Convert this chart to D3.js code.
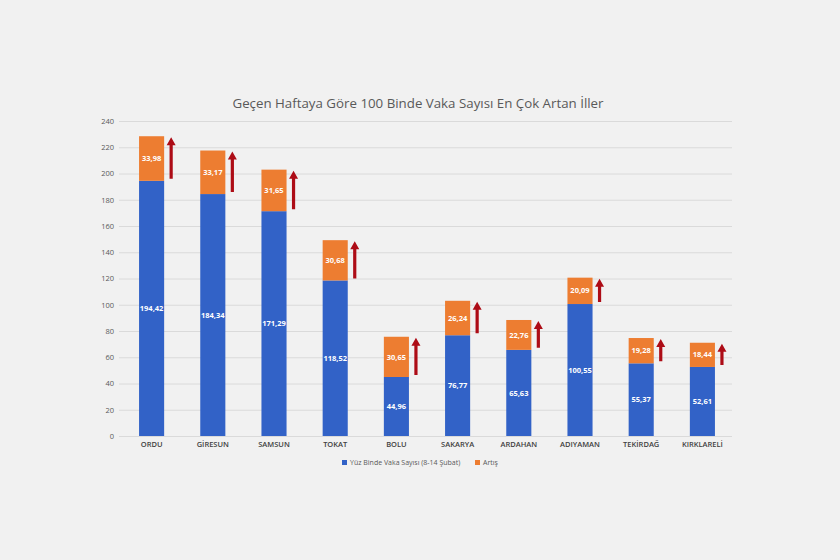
<!DOCTYPE html>
<html>
<head>
<meta charset="utf-8">
<script src="https://cdn.jsdelivr.net/npm/d3@7"></script>
<style>
  body { margin: 0; background: #f1f1f1; }
  svg { display: block; font-family: "Open Sans", "Liberation Sans", sans-serif; }
</style>
</head>
<body>
<div id="chart"></div>
<script>
/*global d3*/

// iller ve değerler
var iller = ["ORDU", "GİRESUN", "SAMSUN", "TOKAT", "BOLU", "SAKARYA", "ARDAHAN", "ADIYAMAN", "TEKİRDAĞ", "KIRKLARELİ"];
var vaka = [194.42, 184.34, 171.29, 118.52, 44.96, 76.77, 65.63, 100.55, 55.37, 52.61];
var artis = [33.98, 33.17, 31.65, 30.68, 30.65, 26.24, 22.76, 20.09, 19.28, 18.44];
var yTicks = [0, 20, 40, 60, 80, 100, 120, 140, 160, 180, 200, 220, 240];
var seriesNames = ["Yüz Binde Vaka Sayısı (8-14 Şubat)", "Artış"];

var width = 840,
    height = 560,
    blue = "#3262c7",
    orange = "#ed7d31",
    arrowColor = "#ad0c16";

var fmt = function(v) { return v.toFixed(2).replace(".", ","); };

var data = iller.map(function(d, i) {
  return { il: d, vaka: vaka[i], artis: artis[i], total: vaka[i] + artis[i] };
});

var svg = d3.select("#chart").append("svg")
  .attr("width", width)
  .attr("height", height);

svg.append("rect")
  .attr("width", width)
  .attr("height", height)
  .style("fill", "#f1f1f1");

var x = d3.scaleBand()
  .domain(iller)
  .range([121, 733])
  .paddingInner(0.59)
  .paddingOuter(0.295);

var y = d3.scaleLinear()
  .domain([0, 240])
  .range([436, 121]);

// title
svg.append("text")
  .attr("x", 418)
  .attr("y", 108)
  .attr("text-anchor", "middle")
  .style("font-size", "13.3px")
  .style("fill", "#595959")
  .text("Geçen Haftaya Göre 100 Binde Vaka Sayısı En Çok Artan İller");

// grid
svg.append("g")
  .selectAll("line")
  .data(yTicks)
  .enter()
  .append("line")
  .attr("x1", 119)
  .attr("x2", 732)
  .attr("y1", function(d) { return y(d) + 0.5; })
  .attr("y2", function(d) { return y(d) + 0.5; })
  .style("stroke", "#dadada")
  .style("stroke-width", 1);

// y axis labels
var yAxis = d3.axisLeft(y).tickValues(yTicks).tickSize(0).tickPadding(0);
var yg = svg.append("g")
  .attr("transform", "translate(114,0)")
  .call(yAxis);
yg.select(".domain").remove();
yg.selectAll("text")
  .style("font-size", "7.5px")
  .style("fill", "#595959")
  .style("font-family", "\"Open Sans\", sans-serif");

// x axis labels
var xAxis = d3.axisBottom(x).tickSize(0).tickPadding(0);
var xg = svg.append("g")
  .attr("transform", "translate(0,442)")
  .call(xAxis);
xg.select(".domain").remove();
xg.selectAll("text")
  .style("font-size", "7.5px")
  .style("font-weight", "600")
  .style("fill", "#404040")
  .style("font-family", "\"Open Sans\", sans-serif");

// bars
var bars = svg.append("g").selectAll("g")
  .data(data)
  .enter()
  .append("g");

bars.append("rect")
  .attr("x", function(d) { return x(d.il); })
  .attr("width", x.bandwidth())
  .attr("y", function(d) { return y(d.vaka); })
  .attr("height", function(d) { return y(0) - y(d.vaka); })
  .style("fill", blue);

bars.append("rect")
  .attr("x", function(d) { return x(d.il); })
  .attr("width", x.bandwidth())
  .attr("y", function(d) { return y(d.total); })
  .attr("height", function(d) { return y(d.vaka) - y(d.total); })
  .style("fill", orange);

// value labels
bars.append("text")
  .attr("x", function(d) { return x(d.il) + x.bandwidth() / 2; })
  .attr("y", function(d) { return y(d.vaka / 2); })
  .attr("dy", "0.35em")
  .attr("text-anchor", "middle")
  .style("font-size", "7.5px")
  .style("font-weight", "bold")
  .style("fill", "#ffffff")
  .text(function(d) { return fmt(d.vaka); });

bars.append("text")
  .attr("x", function(d) { return x(d.il) + x.bandwidth() / 2; })
  .attr("y", function(d) { return y(d.vaka + d.artis / 2); })
  .attr("dy", "0.35em")
  .attr("text-anchor", "middle")
  .style("font-size", "7.5px")
  .style("font-weight", "bold")
  .style("fill", "#ffffff")
  .text(function(d) { return fmt(d.artis); });

// arrows next to each bar
bars.append("path")
  .attr("d", function(d) {
    var ax = x(d.il) + x.bandwidth() + 7,
        top = y(d.total) + 1,
        bottom = y(d.vaka) - 2,
        headLen = 8,
        headW = 4.5,
        shaft = 1.6;
    return "M" + ax + "," + top +
      "L" + (ax + headW) + "," + (top + headLen) +
      "L" + (ax + shaft) + "," + (top + headLen) +
      "L" + (ax + shaft) + "," + bottom +
      "L" + (ax - shaft) + "," + bottom +
      "L" + (ax - shaft) + "," + (top + headLen) +
      "L" + (ax - headW) + "," + (top + headLen) + "Z";
  })
  .style("fill", arrowColor);

// legend
var legend = svg.append("g").attr("transform", "translate(342,463)");
var legX = [0, 133];
var legColors = [blue, orange];
seriesNames.forEach(function(name, i) {
  legend.append("rect")
    .attr("x", legX[i])
    .attr("y", -3)
    .attr("width", 5)
    .attr("height", 5)
    .style("fill", legColors[i]);
  legend.append("text")
    .attr("x", legX[i] + 8)
    .attr("y", 0)
    .attr("dy", "0.35em")
    .style("font-size", "7px")
    .style("fill", "#595959")
    .text(name);
});
</script>
</body>
</html>
